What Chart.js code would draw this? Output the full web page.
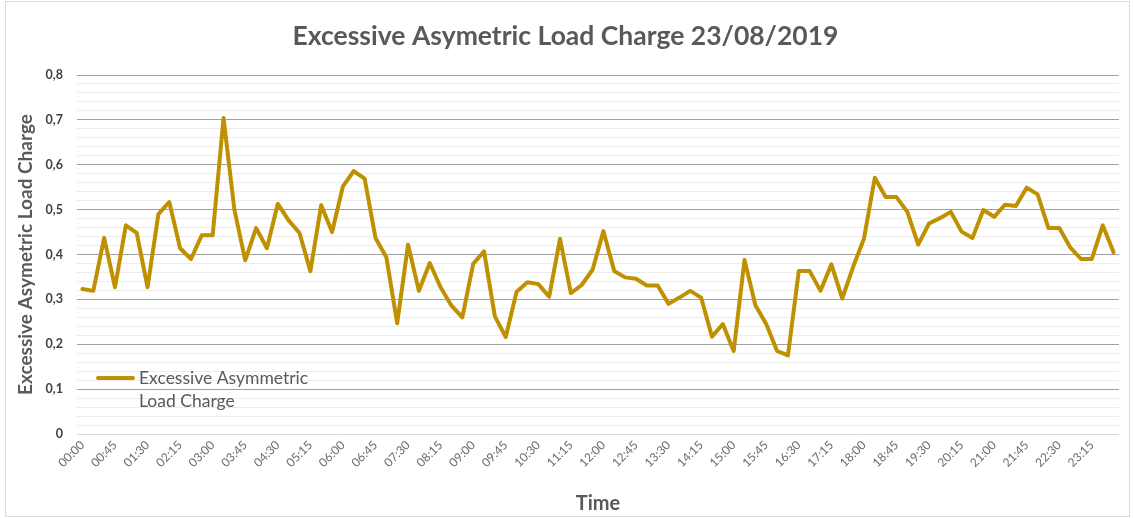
<!DOCTYPE html>
<html>
<head>
<meta charset="utf-8">
<script src="https://cdn.jsdelivr.net/npm/chart.js@4.4.1/dist/chart.umd.min.js"></script>
<style>
html,body{margin:0;padding:0;background:#fff;}
#wrap{width:1133px;height:518px;position:relative;}
</style>
</head>
<body>
<div id="wrap"><canvas id="c" width="1133" height="518"></canvas></div>
<script>
// ---- data ----
const chartTitle = "Excessive Asymetric Load Charge 23/08/2019";
const yAxisTitle = "Excessive Asymetric Load Charge";
const xAxisTitle = "Time";
const seriesLabel = "Excessive Asymmetric Load Charge";

const times = [];
for (let h = 0; h < 24; h++) {
  for (let m = 0; m < 60; m += 15) {
    times.push(String(h).padStart(2, "0") + ":" + String(m).padStart(2, "0"));
  }
}

const values = [
  0.323, 0.319, 0.437, 0.327, 0.465, 0.448, 0.327, 0.490, 0.517, 0.414,
  0.390, 0.443, 0.443, 0.704, 0.500, 0.387, 0.459, 0.414, 0.513, 0.476,
  0.448, 0.363, 0.510, 0.450, 0.552, 0.586, 0.569, 0.437, 0.394, 0.247,
  0.422, 0.319, 0.381, 0.327, 0.286, 0.260, 0.379, 0.407, 0.262, 0.216,
  0.317, 0.338, 0.334, 0.306, 0.435, 0.314, 0.332, 0.366, 0.452, 0.363,
  0.349, 0.346, 0.331, 0.331, 0.290, 0.304, 0.319, 0.304, 0.217, 0.245,
  0.185, 0.388, 0.287, 0.245, 0.185, 0.175, 0.363, 0.363, 0.319, 0.378,
  0.302, 0.372, 0.435, 0.571, 0.528, 0.528, 0.495, 0.422, 0.469, 0.481,
  0.495, 0.451, 0.437, 0.499, 0.484, 0.511, 0.508, 0.549, 0.534, 0.459,
  0.459, 0.416, 0.390, 0.390, 0.465, 0.405
];

const yMin = 0, yMax = 0.8, yMinorStep = 0.02, yMajorStep = 0.1;
const xLabelEvery = 3;

const FONT = "Lato, 'Open Sans', sans-serif";
const lineColor = "#BF9000";

const frameLegend = {
  id: "frameLegend",
  beforeDraw(chart) {
    const ctx = chart.ctx;
    ctx.save();
    ctx.fillStyle = "#fff";
    ctx.fillRect(0, 0, chart.width, chart.height);
    ctx.strokeStyle = "#d9d9d9";
    ctx.lineWidth = 1;
    ctx.strokeRect(5.5, 1.5, 1124, 515);
    ctx.restore();
  },
  afterDraw(chart) {
    const ctx = chart.ctx;
    const ds = chart.data.datasets[0];
    const words = ds.label.split(" ");
    const line1 = words.slice(0, 2).join(" ");
    const line2 = words.slice(2).join(" ");
    ctx.save();
    ctx.strokeStyle = ds.borderColor;
    ctx.lineWidth = 4;
    ctx.lineCap = "round";
    ctx.beginPath();
    ctx.moveTo(98, 378);
    ctx.lineTo(133, 378);
    ctx.stroke();
    ctx.fillStyle = "#595959";
    ctx.font = "17.5px " + FONT;
    ctx.textBaseline = "middle";
    ctx.textAlign = "left";
    ctx.fillText(line1, 139, 378);
    ctx.fillText(line2, 139, 401);
    ctx.restore();
  }
};

new Chart(document.getElementById("c"), {
  type: "line",
  data: {
    labels: times,
    datasets: [{
      label: seriesLabel,
      data: values,
      borderColor: lineColor,
      backgroundColor: lineColor,
      borderWidth: 4,
      borderJoinStyle: "round",
      borderCapStyle: "round",
      pointRadius: 0,
      tension: 0,
      fill: false
    }]
  },
  options: {
    responsive: false,
    animation: false,
    devicePixelRatio: 1,
    layout: { padding: { left: 12, right: 14, top: 0, bottom: 2 } },
    plugins: {
      legend: { display: false },
      tooltip: { enabled: false },
      title: {
        display: true,
        text: chartTitle,
        color: "#595959",
        font: { family: FONT, size: 26.5, weight: "bold" },
        padding: { top: 21, bottom: 22.2 }
      }
    },
    scales: {
      x: {
        type: "category",
        offset: true,
        grid: { display: false, drawTicks: false },
        border: { display: false },
        ticks: {
          autoSkip: false,
          minRotation: 45,
          maxRotation: 45,
          color: "#6b6b6b",
          font: { family: FONT, size: 12 },
          padding: 4,
          callback: function (v, i) { return i % xLabelEvery === 0 ? times[i] : ""; }
        },
        title: {
          display: true,
          text: xAxisTitle,
          color: "#595959",
          font: { family: FONT, size: 20, weight: "bold" },
          padding: { top: 0, bottom: 0 }
        },
        afterFit(scale) { scale.height = 82; }
      },
      y: {
        min: yMin,
        max: yMax,
        border: { display: false },
        grid: {
          drawTicks: false,
          lineWidth: 1,
          color: function (c) {
            const v = c.tick.value;
            if (Math.abs(v) < 1e-9) return "#d9d9d9";
            const r = v / yMajorStep;
            return Math.abs(r - Math.round(r)) < 1e-6 ? "#a0a0a0" : "#ececec";
          }
        },
        ticks: {
          stepSize: yMinorStep,
          autoSkip: false,
          color: "#404040",
          font: { family: FONT, size: 12.5, weight: "bold" },
          padding: 14,
          callback: function (v) {
            const r = v / yMajorStep;
            if (Math.abs(r - Math.round(r)) > 1e-6) return "";
            const n = Math.round(r) / 10;
            return n === 0 ? "0" : n.toFixed(1).replace(".", ",");
          }
        },
        title: {
          display: true,
          text: yAxisTitle,
          color: "#595959",
          font: { family: FONT, size: 19, weight: "bold" },
          padding: { top: 2, bottom: 0 }
        },
        afterFit(scale) { scale.width = 65; }
      }
    }
  },
  plugins: [frameLegend]
});
</script>
</body>
</html>
